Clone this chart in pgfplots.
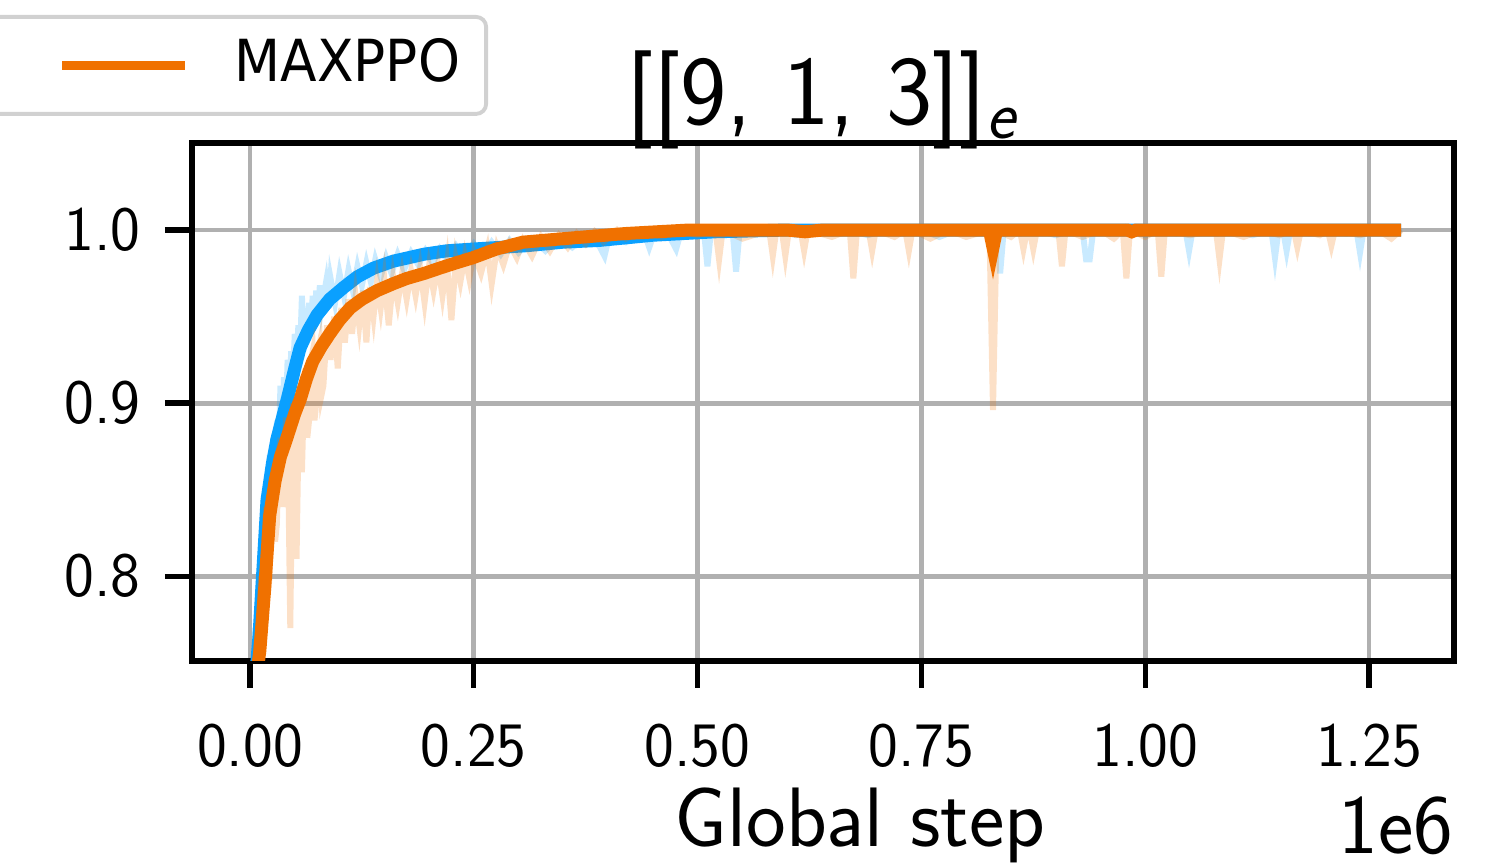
\documentclass[border=0pt]{standalone}
\usepackage{fontspec}
\usepackage{pgfplots}
\pgfplotsset{compat=1.18}
\usetikzlibrary{calc}
\newfontfamily\legfont{DejaVu Sans}[FakeStretch=0.92]

\definecolor{cblue}{HTML}{0AA0FF}
\definecolor{corange}{HTML}{F07100}
\definecolor{gridgray}{HTML}{B0B0B0}

\newcommand{\tickfont}{\fontsize{18}{20}\selectfont\sffamily}
\newcommand{\labfont}{\fontsize{24}{26}\selectfont\sffamily}

\begin{document}
\begin{tikzpicture}
\begin{axis}[
  name=ax,
  scale only axis,
  width=12.62cm, height=5.18cm,
  xmin=-0.0648, xmax=1.345,
  ymin=0.751, ymax=1.0503,
  xtick={0,0.25,0.5,0.75,1.0,1.25},
  xticklabels={0.00,0.25,0.50,0.75,1.00,1.25},
  ytick={0.8,0.9,1.0},
  yticklabels={0.8,0.9,1.0},
  xtick pos=bottom, ytick pos=left,
  tick align=outside,
  major tick length=0.27cm,
  every tick/.style={black, line width=1.5pt},
  axis line style={line width=1.5pt},
  grid=major,
  grid style={gridgray, line width=1.4pt},
  x tick label style={font=\tickfont, inner sep=0pt, anchor=north, yshift=-0.35cm},
  y tick label style={font=\tickfont, inner sep=0pt, anchor=east, xshift=-0.24cm},
  title={[[9,\ 1,\ 3]]\textsubscript{\textit{e}}},
  title style={font=\fontsize{28}{30}\selectfont\sffamily, at={(0.5,1)}, anchor=base, yshift=-0.03cm},
  legend style={
    at={(0.2346,1.2471)}, anchor=north east,
    draw=black!18, line width=1.1pt, rounded corners=0.1cm,
    inner xsep=0.26cm, inner ysep=0.225cm,
    column sep=0.45cm,
    nodes={inner sep=0pt, text height=0.42cm, text depth=0.10cm, font=\fontsize{16.5}{18}\selectfont\legfont},
  },
  legend image code/.code={
    \path[draw=none] (-1.0cm,-0.16cm) -- (0cm,0cm);
    \draw[#1, line width=2.6pt, opacity=1] (0cm,0cm) -- (1.23cm,0cm);
  },
]
% raw blue
\addplot[cblue, opacity=0.22, line width=1.7pt, forget plot] coordinates {
(0.004,0.73) (0.006,0.77) (0.008,0.75) (0.010,0.80) (0.012,0.78) (0.014,0.83)
(0.016,0.81) (0.018,0.85) (0.020,0.83) (0.022,0.87) (0.024,0.85) (0.026,0.88)
(0.028,0.86) (0.030,0.89) (0.032,0.87) (0.034,0.91) (0.036,0.88) (0.038,0.915)
(0.040,0.89) (0.042,0.925) (0.044,0.90) (0.046,0.93) (0.048,0.915) (0.050,0.94)
(0.052,0.92) (0.054,0.945) (0.056,0.93) (0.058,0.962) (0.060,0.93) (0.062,0.955)
(0.064,0.94) (0.066,0.958) (0.068,0.94) (0.070,0.962) (0.072,0.948) (0.074,0.965)
(0.076,0.95) (0.078,0.968) (0.080,0.955) (0.085,0.970) (0.088,0.955) (0.090,0.972)
(0.095,0.958) (0.100,0.975) (0.105,0.962) (0.110,0.977) (0.115,0.965) (0.120,0.979)
(0.125,0.968) (0.130,0.981) (0.135,0.970) (0.140,0.983) (0.146,0.973) (0.152,0.984)
(0.158,0.975) (0.165,0.986) (0.172,0.977) (0.180,0.987) (0.188,0.980) (0.196,0.988)
(0.204,0.981) (0.212,0.989) (0.220,0.983) (0.230,0.991) (0.240,0.984) (0.250,0.992)
(0.260,0.985) (0.270,0.993) (0.280,0.986) (0.290,0.994) (0.300,0.987) (0.315,0.995)
(0.330,0.988) (0.345,0.996) (0.360,0.990) (0.375,0.997) (0.390,0.991) (0.396,0.985)
(0.402,0.998) (0.420,0.993) (0.440,0.999) (0.446,0.990) (0.452,0.999) (0.470,0.995)
(0.476,0.989) (0.482,1.000) (0.495,0.997) (0.507,1.000) (0.511,0.979) (0.515,1.000)
(0.530,0.998) (0.539,1.000) (0.543,0.976) (0.547,1.000) (0.570,0.998) (0.590,1.000)
(0.610,0.997) (0.630,1.000) (0.650,0.998) (0.670,1.000) (0.690,0.997) (0.710,1.000)
(0.730,0.998) (0.750,1.000) (0.770,0.996) (0.790,1.000) (0.810,0.998) (0.834,1.000)
(0.838,0.975) (0.842,1.000) (0.860,0.998) (0.880,1.000) (0.900,0.997) (0.920,1.000)
(0.930,1.000) (0.934,0.983) (0.938,0.983) (0.942,1.000) (0.960,0.998) (0.980,1.000)
(1.000,0.997) (1.020,1.000) (1.035,0.998) (1.045,1.000) (1.049,0.988) (1.053,1.000)
(1.080,0.998) (1.100,1.000) (1.120,0.997) (1.141,1.000) (1.145,0.984) (1.149,1.000)
(1.154,1.000) (1.158,0.988) (1.162,1.000) (1.185,0.998) (1.205,1.000) (1.225,0.998)
(1.236,1.000) (1.240,0.987) (1.244,1.000) (1.270,0.998) (1.286,1.000)
};
% smoothed blue
\addplot[cblue, line width=3.7pt, forget plot] coordinates {
(0.000,0.700) (0.006,0.740) (0.010,0.765) (0.014,0.800) (0.019,0.844) (0.025,0.865)
(0.030,0.879) (0.036,0.891) (0.042,0.903) (0.050,0.920) (0.056,0.932) (0.065,0.942)
(0.075,0.951) (0.089,0.960) (0.105,0.967) (0.120,0.973) (0.138,0.978) (0.160,0.982)
(0.194,0.986) (0.220,0.988) (0.249,0.989) (0.280,0.990) (0.310,0.991) (0.350,0.993)
(0.390,0.994) (0.450,0.997) (0.520,0.999) (0.600,1.000) (0.800,1.000) (1.000,1.000)
(1.286,1.000)
};
% raw orange
\addplot[corange, opacity=0.22, line width=1.7pt, forget plot] coordinates {
(0.004,0.72) (0.007,0.76) (0.010,0.77) (0.012,0.80) (0.014,0.76) (0.016,0.82)
(0.018,0.84) (0.020,0.79) (0.022,0.80) (0.024,0.85) (0.026,0.86) (0.028,0.82)
(0.030,0.83) (0.032,0.87) (0.034,0.88) (0.036,0.84) (0.038,0.85) (0.040,0.89)
(0.042,0.89) (0.045,0.77) (0.048,0.90) (0.050,0.87) (0.052,0.81) (0.055,0.91)
(0.058,0.86) (0.060,0.90) (0.062,0.92) (0.064,0.88) (0.066,0.89) (0.068,0.925)
(0.070,0.93) (0.072,0.89) (0.074,0.90) (0.076,0.93) (0.078,0.935) (0.080,0.905)
(0.082,0.91) (0.086,0.945) (0.090,0.925) (0.094,0.95) (0.098,0.92) (0.102,0.955)
(0.106,0.935) (0.110,0.96) (0.114,0.94) (0.118,0.962) (0.122,0.945) (0.126,0.965)
(0.130,0.935) (0.134,0.967) (0.138,0.95) (0.142,0.97) (0.146,0.955) (0.150,0.972)
(0.155,0.945) (0.160,0.973) (0.165,0.958) (0.170,0.975) (0.175,0.96) (0.180,0.976)
(0.185,0.962) (0.190,0.978) (0.195,0.958) (0.200,0.979) (0.205,0.965) (0.210,0.98)
(0.215,0.962) (0.220,0.981) (0.225,0.948) (0.230,0.983) (0.235,0.97) (0.240,0.985)
(0.245,0.972) (0.250,0.987) (0.258,0.975) (0.265,0.989) (0.270,0.969) (0.276,0.990)
(0.283,0.980) (0.290,0.992) (0.298,0.984) (0.305,0.994) (0.315,0.985) (0.325,0.996)
(0.335,0.988) (0.345,0.997) (0.355,0.990) (0.365,0.998) (0.375,0.992) (0.385,0.999)
(0.395,0.993) (0.410,1.000) (0.420,0.995) (0.440,1.000) (0.460,0.996) (0.480,1.000)
(0.500,0.997) (0.520,1.000) (0.524,0.983) (0.528,1.000) (0.550,0.995) (0.580,1.000)
(0.584,0.985) (0.588,1.000) (0.594,1.000) (0.598,0.985) (0.602,1.000) (0.615,1.000)
(0.619,0.988) (0.623,1.000) (0.650,0.996) (0.670,1.000) (0.674,0.972) (0.678,1.000)
(0.691,1.000) (0.695,0.988) (0.699,1.000) (0.720,0.996) (0.732,1.000) (0.736,0.988)
(0.740,1.000) (0.760,0.995) (0.780,1.000) (0.800,0.996) (0.826,1.000) (0.830,0.896)
(0.834,1.000) (0.850,0.996) (0.860,1.000) (0.864,0.989) (0.868,1.000) (0.871,1.000)
(0.875,0.989) (0.879,1.000) (0.903,1.000) (0.907,0.979) (0.911,1.000) (0.930,0.996)
(0.950,1.000) (0.965,0.995) (0.975,1.000) (0.979,0.972) (0.983,1.000) (1.000,0.996)
(1.014,1.000) (1.018,0.973) (1.022,1.000) (1.050,0.997) (1.079,1.000) (1.083,0.983)
(1.087,1.000) (1.110,0.996) (1.130,1.000) (1.150,0.997) (1.166,1.000) (1.170,0.990)
(1.174,1.000) (1.195,0.997) (1.204,1.000) (1.208,0.991) (1.212,1.000) (1.240,0.997)
(1.260,1.000) (1.275,0.995) (1.286,1.000)
};
% smoothed orange
\addplot[corange, line width=3.7pt] coordinates {
(0.000,0.700) (0.008,0.745) (0.011,0.757) (0.016,0.790) (0.022,0.835) (0.028,0.855)
(0.034,0.869) (0.040,0.878) (0.045,0.886) (0.050,0.894) (0.056,0.902) (0.063,0.914)
(0.070,0.924) (0.080,0.933) (0.089,0.940) (0.100,0.948) (0.112,0.955) (0.125,0.960)
(0.142,0.965) (0.160,0.969) (0.175,0.972) (0.195,0.975) (0.212,0.978) (0.230,0.981)
(0.249,0.984) (0.275,0.989) (0.305,0.993) (0.350,0.995) (0.420,0.998) (0.490,1.000)
(0.600,1.000) (0.620,0.999) (0.640,1.000) (0.826,1.000) (0.830,0.990) (0.834,1.000)
(0.980,1.000) (0.985,0.999) (0.990,1.000) (1.286,1.000)
};
\addlegendentry{MAXPPO}
\end{axis}
\node[font=\labfont, anchor=base, inner sep=0pt] at ($(ax.south west)+(6.68,-1.86)$) {Global step};
\node[font=\labfont, anchor=base east, inner sep=0pt] at ($(ax.south east)+(0,-1.93)$) {1e6};
\pgfresetboundingbox
\path ($(ax.south west)+(-1.92,-2.03)$) rectangle ($(ax.north east)+(0.42,1.43)$);
\end{tikzpicture}
\end{document}
